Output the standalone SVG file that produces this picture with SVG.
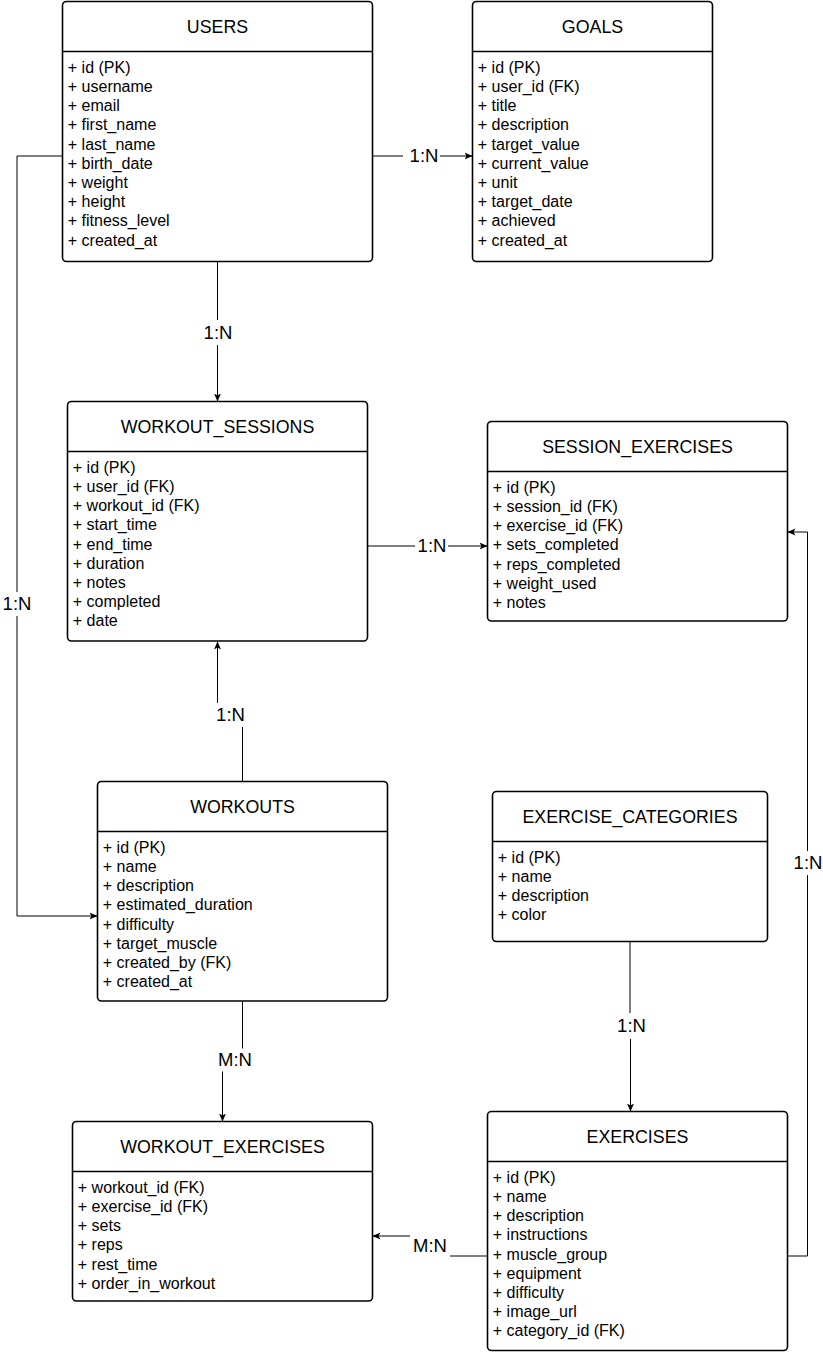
<svg xmlns="http://www.w3.org/2000/svg" width="823" height="1352" viewBox="0 0 823 1352">
<style>
.box{fill:#fff;stroke:#000;stroke-width:1.6}
.div{stroke:#000;stroke-width:1.6}
.title{font-family:"Liberation Sans",Arial,sans-serif;font-size:17.8px;fill:#000;text-anchor:middle}
.body{font-family:"Liberation Sans",Arial,sans-serif;font-size:16px;fill:#000}
.edge{fill:none;stroke:#000;stroke-width:1}
.lblbg{fill:#fff;stroke:none}
.lbl{font-family:"Liberation Sans",Arial,sans-serif;font-size:18.5px;fill:#000;text-anchor:middle}
</style>
<defs>
<marker id="arr" markerUnits="userSpaceOnUse" viewBox="0 0 8 8" refX="8" refY="4" markerWidth="8" markerHeight="8" orient="auto">
<path d="M0,0.5 L8,4 L0,7.5 L2,4 Z" fill="#000"/>
</marker>
</defs>
<rect width="823" height="1352" fill="#fff"/>

<g id="connectors">
<path class="edge" d="M372.5,156 H472.5" marker-end="url(#arr)"/>
<path class="edge" d="M62.5,156 H17 V916 H97.5" marker-end="url(#arr)"/>
<path class="edge" d="M217.5,261.5 V401.5" marker-end="url(#arr)"/>
<path class="edge" d="M367.5,546 H487.5" marker-end="url(#arr)"/>
<path class="edge" d="M242.5,781.5 V715 H217.5 V641.5" marker-end="url(#arr)"/>
<path class="edge" d="M242.5,1001.5 V1060 H222.5 V1121.5" marker-end="url(#arr)"/>
<path class="edge" d="M630,941.5 V1026 H630.5 V1111.5" marker-end="url(#arr)"/>
<path class="edge" d="M487.5,1256 H430 V1236 H372.5" marker-end="url(#arr)"/>
<path class="edge" d="M787.5,1256 H807.5 V532 H787.5" marker-end="url(#arr)"/>

<rect class="lblbg" x="403" y="144" width="37" height="24"/>
<text class="lbl" x="424" y="162">1:N</text>
<rect class="lblbg" x="0" y="592" width="34" height="24"/>
<text class="lbl" x="17" y="610">1:N</text>
<rect class="lblbg" x="200" y="320" width="36" height="25"/>
<text class="lbl" x="218" y="338.5">1:N</text>
<rect class="lblbg" x="415" y="534" width="33" height="24"/>
<text class="lbl" x="432" y="552">1:N</text>
<rect class="lblbg" x="212" y="703" width="37" height="24"/>
<text class="lbl" x="230.5" y="721">1:N</text>
<rect class="lblbg" x="214" y="1048.5" width="42" height="23"/>
<text class="lbl" x="235" y="1066">M:N</text>
<rect class="lblbg" x="614" y="1013" width="34" height="26"/>
<text class="lbl" x="631.5" y="1032">1:N</text>
<rect class="lblbg" x="410" y="1234" width="40" height="24"/>
<text class="lbl" x="430" y="1252">M:N</text>
<rect class="lblbg" x="791" y="851" width="34" height="24"/>
<text class="lbl" x="808" y="869">1:N</text>
</g>

<g id="users">
<rect class="box" x="62.5" y="1.5" width="310" height="260" rx="4"/>
<line class="div" x1="62.5" y1="51.5" x2="372.5" y2="51.5"/>
<text class="title" x="217.5" y="32.7">USERS</text>
<text class="body" x="67.8" y="72.8"><tspan x="67.8">+ id (PK)</tspan><tspan x="67.8" dy="19.2">+ username</tspan><tspan x="67.8" dy="19.2">+ email</tspan><tspan x="67.8" dy="19.2">+ first_name</tspan><tspan x="67.8" dy="19.2">+ last_name</tspan><tspan x="67.8" dy="19.2">+ birth_date</tspan><tspan x="67.8" dy="19.2">+ weight</tspan><tspan x="67.8" dy="19.2">+ height</tspan><tspan x="67.8" dy="19.2">+ fitness_level</tspan><tspan x="67.8" dy="19.2">+ created_at</tspan></text>
</g>

<g id="goals">
<rect class="box" x="472.5" y="1.5" width="240" height="260" rx="4"/>
<line class="div" x1="472.5" y1="51.5" x2="712.5" y2="51.5"/>
<text class="title" x="592.5" y="32.7">GOALS</text>
<text class="body" x="477.8" y="72.8"><tspan x="477.8">+ id (PK)</tspan><tspan x="477.8" dy="19.2">+ user_id (FK)</tspan><tspan x="477.8" dy="19.2">+ title</tspan><tspan x="477.8" dy="19.2">+ description</tspan><tspan x="477.8" dy="19.2">+ target_value</tspan><tspan x="477.8" dy="19.2">+ current_value</tspan><tspan x="477.8" dy="19.2">+ unit</tspan><tspan x="477.8" dy="19.2">+ target_date</tspan><tspan x="477.8" dy="19.2">+ achieved</tspan><tspan x="477.8" dy="19.2">+ created_at</tspan></text>
</g>

<g id="workout_sessions">
<rect class="box" x="67.5" y="401.5" width="300" height="239.5" rx="4"/>
<line class="div" x1="67.5" y1="451.5" x2="367.5" y2="451.5"/>
<text class="title" x="217.5" y="432.7">WORKOUT_SESSIONS</text>
<text class="body" x="72.8" y="472.8"><tspan x="72.8">+ id (PK)</tspan><tspan x="72.8" dy="19.2">+ user_id (FK)</tspan><tspan x="72.8" dy="19.2">+ workout_id (FK)</tspan><tspan x="72.8" dy="19.2">+ start_time</tspan><tspan x="72.8" dy="19.2">+ end_time</tspan><tspan x="72.8" dy="19.2">+ duration</tspan><tspan x="72.8" dy="19.2">+ notes</tspan><tspan x="72.8" dy="19.2">+ completed</tspan><tspan x="72.8" dy="19.2">+ date</tspan></text>
</g>

<g id="session_exercises">
<rect class="box" x="487.5" y="421.5" width="300" height="199.5" rx="4"/>
<line class="div" x1="487.5" y1="471.5" x2="787.5" y2="471.5"/>
<text class="title" x="637.5" y="452.7">SESSION_EXERCISES</text>
<text class="body" x="492.8" y="492.8"><tspan x="492.8">+ id (PK)</tspan><tspan x="492.8" dy="19.2">+ session_id (FK)</tspan><tspan x="492.8" dy="19.2">+ exercise_id (FK)</tspan><tspan x="492.8" dy="19.2">+ sets_completed</tspan><tspan x="492.8" dy="19.2">+ reps_completed</tspan><tspan x="492.8" dy="19.2">+ weight_used</tspan><tspan x="492.8" dy="19.2">+ notes</tspan></text>
</g>

<g id="workouts">
<rect class="box" x="97.5" y="781.5" width="290" height="219.5" rx="4"/>
<line class="div" x1="97.5" y1="831.5" x2="387.5" y2="831.5"/>
<text class="title" x="242.5" y="812.7">WORKOUTS</text>
<text class="body" x="102.8" y="852.8"><tspan x="102.8">+ id (PK)</tspan><tspan x="102.8" dy="19.2">+ name</tspan><tspan x="102.8" dy="19.2">+ description</tspan><tspan x="102.8" dy="19.2">+ estimated_duration</tspan><tspan x="102.8" dy="19.2">+ difficulty</tspan><tspan x="102.8" dy="19.2">+ target_muscle</tspan><tspan x="102.8" dy="19.2">+ created_by (FK)</tspan><tspan x="102.8" dy="19.2">+ created_at</tspan></text>
</g>

<g id="exercise_categories">
<rect class="box" x="492.5" y="791.5" width="275" height="150" rx="4"/>
<line class="div" x1="492.5" y1="841.5" x2="767.5" y2="841.5"/>
<text class="title" x="630" y="822.7">EXERCISE_CATEGORIES</text>
<text class="body" x="497.8" y="862.8"><tspan x="497.8">+ id (PK)</tspan><tspan x="497.8" dy="19.2">+ name</tspan><tspan x="497.8" dy="19.2">+ description</tspan><tspan x="497.8" dy="19.2">+ color</tspan></text>
</g>

<g id="workout_exercises">
<rect class="box" x="72.5" y="1121.5" width="300" height="179.5" rx="4"/>
<line class="div" x1="72.5" y1="1171.5" x2="372.5" y2="1171.5"/>
<text class="title" x="222.5" y="1152.7">WORKOUT_EXERCISES</text>
<text class="body" x="77.8" y="1192.8"><tspan x="77.8">+ workout_id (FK)</tspan><tspan x="77.8" dy="19.2">+ exercise_id (FK)</tspan><tspan x="77.8" dy="19.2">+ sets</tspan><tspan x="77.8" dy="19.2">+ reps</tspan><tspan x="77.8" dy="19.2">+ rest_time</tspan><tspan x="77.8" dy="19.2">+ order_in_workout</tspan></text>
</g>

<g id="exercises">
<rect class="box" x="487.5" y="1111.5" width="300" height="239" rx="4"/>
<line class="div" x1="487.5" y1="1161.5" x2="787.5" y2="1161.5"/>
<text class="title" x="637.5" y="1142.7">EXERCISES</text>
<text class="body" x="492.8" y="1182.8"><tspan x="492.8">+ id (PK)</tspan><tspan x="492.8" dy="19.2">+ name</tspan><tspan x="492.8" dy="19.2">+ description</tspan><tspan x="492.8" dy="19.2">+ instructions</tspan><tspan x="492.8" dy="19.2">+ muscle_group</tspan><tspan x="492.8" dy="19.2">+ equipment</tspan><tspan x="492.8" dy="19.2">+ difficulty</tspan><tspan x="492.8" dy="19.2">+ image_url</tspan><tspan x="492.8" dy="19.2">+ category_id (FK)</tspan></text>
</g>
</svg>
